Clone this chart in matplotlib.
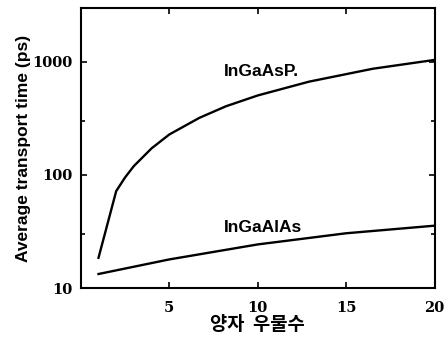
import matplotlib
matplotlib.use("Agg")
import matplotlib.pyplot as plt
from matplotlib.ticker import LogLocator, NullFormatter

# values
x_asp = [1, 2, 2.5, 3, 4, 5, 6.7, 8.2, 10, 12.9, 16.5, 20]
y_asp = [18.5, 72, 95, 120, 172, 228, 320, 405, 505, 669, 870, 1042]
x_alas = [1, 5, 10, 15, 20]
y_alas = [13.3, 17.9, 24.3, 30.5, 35.6]
xticks = [5, 10, 15, 20]
yticks = [10, 100, 1000]

fig = plt.figure(figsize=(4.44, 3.47), dpi=100)
ax = fig.add_axes([0.182, 0.170, 0.797, 0.807])

ax.plot(x_asp, y_asp, color="black", lw=1.7, solid_joinstyle="round")
ax.plot(x_alas, y_alas, color="black", lw=1.7, solid_joinstyle="round")

ax.set_yscale("log")
ax.set_xlim(0, 20)
ax.set_ylim(10, 3000)
ax.set_xticks(xticks)
ax.set_xticklabels([str(v) for v in xticks])
ax.set_yticks(yticks)
ax.set_yticklabels([str(v) for v in yticks])
ax.yaxis.set_minor_locator(LogLocator(base=10, subs=[3]))
ax.yaxis.set_minor_formatter(NullFormatter())

for lab in ax.get_xticklabels() + ax.get_yticklabels():
    lab.set_fontfamily("DejaVu Serif")
    lab.set_fontweight("bold")
    lab.set_fontsize(10.5)

ax.tick_params(which="both", direction="in", top=True, right=True, width=1.2)
ax.tick_params(which="major", length=4)
ax.tick_params(which="minor", length=3)
ax.tick_params(axis="x", pad=9)
ax.tick_params(axis="y", pad=6)
for s in ax.spines.values():
    s.set_linewidth(1.5)

ax.text(8.1, 820, "InGaAsP.", fontsize=12.5, fontweight="bold",
        family="Liberation Sans", va="center", ha="left")
ax.text(8.1, 34, "InGaAlAs", fontsize=12.5, fontweight="bold",
        family="Liberation Sans", va="center", ha="left")

ax.set_ylabel("Average transport time (ps)", fontsize=12.5, fontweight="bold",
              family="Liberation Sans", labelpad=1)
ax.set_xlabel("양자  우물수", fontsize=13.5, fontweight="bold",
              family=["Noto Sans CJK KR", "DejaVu Sans"], labelpad=0)

fig.savefig("out.png", dpi=100)
